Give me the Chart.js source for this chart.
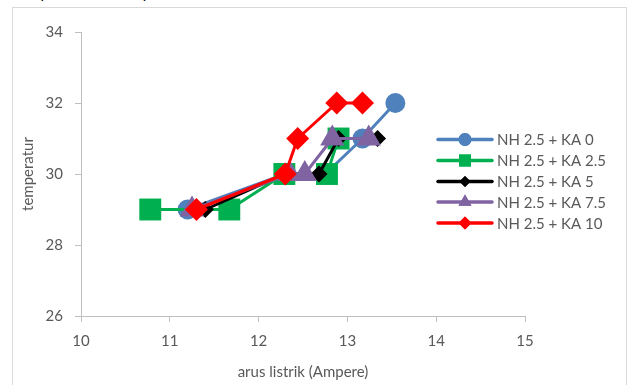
<!DOCTYPE html>
<html>
<head>
<meta charset="utf-8">
<script src="https://cdn.jsdelivr.net/npm/chart.js@4"></script>
<style>
  html, body { margin: 0; padding: 0; width: 629px; height: 385px; overflow: hidden; background: #fff; }
  #frame { position: absolute; left: 12px; top: 7px; width: 615px; height: 420px; border: 1px solid #d9d9d9; box-sizing: border-box; }
  #cut { position: absolute; left: 15px; top: -17px; font: 15px Lato, sans-serif; color: #000; white-space: nowrap; }
  #wrap { position: absolute; left: 0; top: 0; width: 629px; height: 385px; }
</style>
</head>
<body>
<div id="cut">temperatur terhadap arus listrik</div>
<div id="frame"></div>
<div id="wrap"><canvas id="c" width="629" height="385"></canvas></div>
<script>
// ---- data ----
const seriesNames = ["NH 2.5 + KA 0", "NH 2.5 + KA 2.5", "NH 2.5 + KA 5", "NH 2.5 + KA 7.5", "NH 2.5 + KA 10"];
const blueX   = [11.2, 12.3, 12.75, 13.17, 13.54];
const blueY   = [29, 30, 30, 31, 32];
const greenX  = [10.78, 11.67, 12.29, 12.77, 12.9];
const greenY  = [29, 29, 30, 30, 31];
const blackX  = [11.4, 12.3, 12.68, 12.9, 13.34];
const blackY  = [29, 30, 30, 31, 31];
const purpleX = [11.25, 12.35, 12.52, 12.83, 13.24];
const purpleY = [29, 30, 30, 31, 31];
const redX    = [11.3, 12.3, 12.44, 12.88, 13.17];
const redY    = [29, 30, 31, 32, 32];
const xTicks = [10, 11, 12, 13, 14, 15];
const yTicks = [26, 28, 30, 32, 34];

const colors = ["#4f81bd", "#00b050", "#000000", "#8064a2", "#ff0000"];
const styles = ["circle", "rect", "rectRot", "triangle", "rectRot"];
const radii  = [10, 15.5, 8.5, 14, 11.5];
const legendRadii = [6.5, 8.5, 5.5, 7.5, 6.5];
const xs = [blueX, greenX, blackX, purpleX, redX];
const ys = [blueY, greenY, blackY, purpleY, redY];

const FONT = "Lato, 'Open Sans', sans-serif";

const datasets = seriesNames.map((name, i) => ({
  label: name,
  data: xs[i].map((x, j) => ({ x: x, y: ys[i][j] })),
  showLine: true,
  borderColor: colors[i],
  backgroundColor: colors[i],
  borderWidth: 3,
  pointStyle: styles[i],
  pointRadius: radii[i],
  pointHoverRadius: radii[i],
  pointBorderWidth: 0,
  pointBackgroundColor: colors[i],
  order: 4 - i
}));

const legendPlugin = {
  id: 'customLegend',
  afterDraw(chart) {
    const ctx = chart.ctx;
    const rowY = [139.5, 160.5, 181.5, 202, 223];
    ctx.save();
    seriesNames.forEach((name, i) => {
      const y = rowY[i];
      ctx.strokeStyle = colors[i];
      ctx.lineWidth = 3.5;
      ctx.lineCap = 'round';
      ctx.beginPath();
      ctx.moveTo(438, y);
      ctx.lineTo(492, y);
      ctx.stroke();
      ctx.fillStyle = colors[i];
      Chart.helpers.drawPoint(ctx, { pointStyle: styles[i], radius: legendRadii[i], borderWidth: 0, rotation: 0 }, 465, y);
      ctx.fill();
      ctx.fillStyle = '#595959';
      ctx.font = "15px " + FONT;
      ctx.textAlign = 'left';
      ctx.textBaseline = 'middle';
      ctx.fillText(name, 497, y + 1);
    });
    ctx.restore();
  }
};

new Chart(document.getElementById('c'), {
  type: 'scatter',
  data: { datasets: datasets },
  plugins: [legendPlugin],
  options: {
    responsive: false,
    animation: false,
    layout: { padding: { left: 0, top: 32, right: 104, bottom: 0 } },
    plugins: { legend: { display: false }, tooltip: { enabled: false } },
    scales: {
      x: {
        type: 'linear',
        min: 10, max: 15,
        afterFit: s => { s.height = 69; },
        afterBuildTicks: s => { s.ticks = xTicks.map(v => ({ value: v })); },
        ticks: { font: { family: FONT, size: 15 }, color: '#595959', padding: 10 },
        grid: { display: true, drawOnChartArea: false, tickLength: 6, color: '#bfbfbf' },
        border: { color: '#bfbfbf', width: 1 },
        title: { display: true, text: 'arus listrik (Ampere)', font: { family: FONT, size: 15 }, color: '#595959', padding: { top: 0, bottom: 4 } }
      },
      y: {
        type: 'linear',
        min: 26, max: 34,
        afterFit: s => { s.width = 81; },
        afterBuildTicks: s => { s.ticks = yTicks.map(v => ({ value: v })); },
        ticks: { font: { family: FONT, size: 15 }, color: '#595959', padding: 12 },
        grid: { display: true, drawOnChartArea: false, tickLength: 6, color: '#bfbfbf' },
        border: { color: '#bfbfbf', width: 1 },
        title: { display: true, text: 'temperatur', font: { family: FONT, size: 15 }, color: '#595959', padding: { top: 19, bottom: 0 } }
      }
    }
  }
});
</script>
</body>
</html>
